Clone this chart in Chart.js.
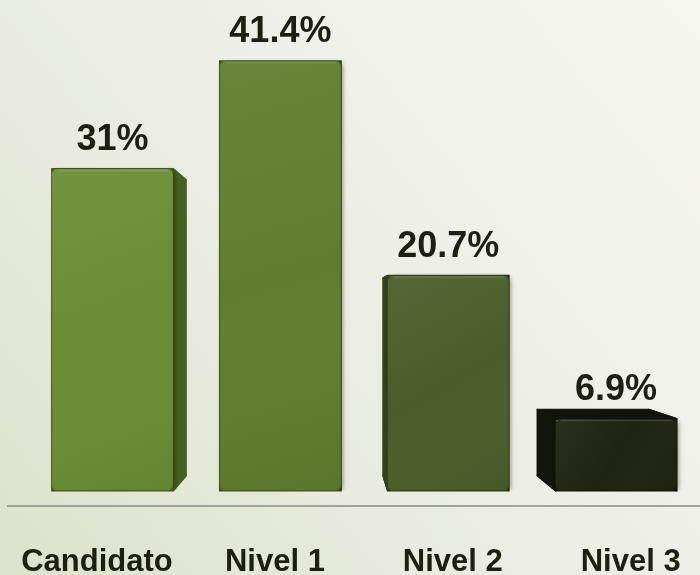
<!DOCTYPE html>
<html><head><meta charset="utf-8">
<script src="https://cdn.jsdelivr.net/npm/chart.js@4"></script>
<style>html,body{margin:0;padding:0;background:#eeefe6}#wrap{width:700px;height:575px;position:relative}</style>
</head><body><div id="wrap"><canvas id="c"></canvas></div>
<script>
const categories = ['Candidato', 'Nivel 1', 'Nivel 2', 'Nivel 3'];
const values = [31, 41.4, 20.7, 6.9];
const valueLabels = ['31%', '41.4%', '20.7%', '6.9%'];
const frontColors = ['#6a8d33', '#607d2f', '#4a5d29', '#1f2313'];
const sideColors = ['#485f20', '#435a1e', '#33421b', '#12150a'];
const yMax = 47.3;
const labelMin = -0.3845;
const labelMax = 3.3895;

const FONT = "'Liberation Sans', Arial, sans-serif";
const TEXT = '#1d2010';

const bgPlugin = {
  id: 'bg',
  beforeDraw(chart) {
    const { ctx, width, height } = chart;
    const g = ctx.createLinearGradient(width, 0, 0, height);
    g.addColorStop(0, '#f6f6f0');
    g.addColorStop(0.5, '#eceee4');
    g.addColorStop(1, '#dce2cd');
    ctx.save();
    ctx.fillStyle = g;
    ctx.fillRect(0, 0, width, height);
    const y = chart.chartArea.bottom + 15.5;
    ctx.strokeStyle = '#8a8c84';
    ctx.lineWidth = 1.5;
    ctx.beginPath();
    ctx.moveTo(7, y);
    ctx.lineTo(width, y);
    ctx.stroke();
    ctx.restore();
  }
};

const box3d = {
  id: 'box3d',
  beforeDatasetsDraw(chart) {
    const meta = chart.getDatasetMeta(0);
    const ctx = chart.ctx;
    const ca = chart.chartArea;
    const vx = ca.left + (ca.right - ca.left) * 0.452;
    const vy = ca.top + (ca.bottom - ca.top) * 0.622;
    const s = 0.919;
    const bx = v => vx + (v - vx) * s;
    const by = v => vy + (v - vy) * s;
    ctx.save();
    meta.data.forEach((bar, i) => {
      const { x, y, base, width } = bar.getProps(['x', 'y', 'base', 'width'], true);
      const L = x - width / 2, R = x + width / 2, T = y, B = base;
      const faces = [
        [[L, T], [R, T], [bx(R), by(T)], [bx(L), by(T)]],
        [[R, T], [bx(R), by(T)], [bx(R), by(B)], [R, B]],
        [[L, T], [bx(L), by(T)], [bx(L), by(B)], [L, B]],
        [[L, B], [R, B], [bx(R), by(B)], [bx(L), by(B)]]
      ];
      ctx.fillStyle = sideColors[i];
      ctx.lineJoin = 'round';
      ctx.strokeStyle = sideColors[i];
      ctx.lineWidth = 2;
      faces.forEach(f => {
        ctx.beginPath();
        ctx.moveTo(f[0][0], f[0][1]);
        for (let k = 1; k < f.length; k++) ctx.lineTo(f[k][0], f[k][1]);
        ctx.closePath();
        ctx.fill();
        ctx.stroke();
      });
    });
    ctx.restore();
  }
};

const shadowPlugin = {
  id: 'barShadow',
  beforeDatasetDraw(chart) {
    const ctx = chart.ctx;
    ctx.save();
    ctx.shadowColor = 'rgba(20,25,5,0.45)';
    ctx.shadowBlur = 4;
    ctx.shadowOffsetX = 2;
    ctx.shadowOffsetY = 1;
  },
  afterDatasetDraw(chart) {
    chart.ctx.restore();
  }
};

const shadePlugin = {
  id: 'faceShade',
  afterDatasetsDraw(chart) {
    const meta = chart.getDatasetMeta(0);
    const ctx = chart.ctx;
    ctx.save();
    meta.data.forEach((bar) => {
      const { x, y, base, width } = bar.getProps(['x', 'y', 'base', 'width'], true);
      const L = x - width / 2;
      const g = ctx.createLinearGradient(L, y, L + width, base);
      g.addColorStop(0, 'rgba(255,255,255,0.06)');
      g.addColorStop(0.5, 'rgba(255,255,255,0)');
      g.addColorStop(1, 'rgba(0,0,0,0.06)');
      ctx.fillStyle = g;
      ctx.beginPath();
      ctx.roundRect(L, y, width, base - y, 5);
      ctx.fill();
      ctx.strokeStyle = 'rgba(255,255,255,0.12)';
      ctx.lineWidth = 1.5;
      ctx.beginPath();
      ctx.moveTo(L + 5, y + 1.5);
      ctx.lineTo(L + width - 5, y + 1.5);
      ctx.stroke();
    });
    ctx.restore();
  }
};

const valueLabelPlugin = {
  id: 'valueLabels',
  afterDatasetsDraw(chart) {
    const meta = chart.getDatasetMeta(0);
    const ctx = chart.ctx;
    ctx.save();
    ctx.font = 'bold 36px ' + FONT;
    ctx.fillStyle = TEXT;
    ctx.textAlign = 'center';
    ctx.textBaseline = 'alphabetic';
    meta.data.forEach((bar, i) => {
      const { x, y } = bar.getProps(['x', 'y'], true);
      ctx.fillText(valueLabels[i], x, y - 19);
    });
    ctx.restore();
  }
};

new Chart(document.getElementById('c'), {
  type: 'bar',
  data: {
    labels: categories,
    datasets: [{
      data: values,
      backgroundColor: frontColors,
      borderRadius: 5,
      borderSkipped: false,
      barPercentage: 0.72,
      categoryPercentage: 1
    }]
  },
  options: {
    responsive: true,
    maintainAspectRatio: false,
    animation: false,
    layout: { padding: { left: 28.6, right: 0, top: 0, bottom: 0 } },
    plugins: { legend: { display: false }, tooltip: { enabled: false } },
    scales: {
      x: { display: false },
      y: { display: false, min: 0, max: yMax },
      xl: {
        type: 'linear',
        position: 'bottom',
        offset: false,
        bounds: 'data',
        min: labelMin,
        max: labelMax,
        grid: { display: false, drawTicks: false, offset: false },
        border: { display: false },
        afterBuildTicks: s => {
          s.ticks = categories.map((c, i) => ({ value: i }));
          s.min = labelMin;
          s.max = labelMax;
        },
        afterFit: s => { s.height = 84.5; s.paddingLeft = 0; s.paddingRight = 0; },
        ticks: {
          autoSkip: false,
          maxRotation: 0,
          minRotation: 0,
          padding: 56,
          color: TEXT,
          font: { family: FONT, size: 31, weight: 'bold', lineHeight: 1 },
          callback: v => categories[v]
        }
      }
    }
  },
  plugins: [bgPlugin, box3d, shadowPlugin, shadePlugin, valueLabelPlugin]
});
</script>
</body></html>
